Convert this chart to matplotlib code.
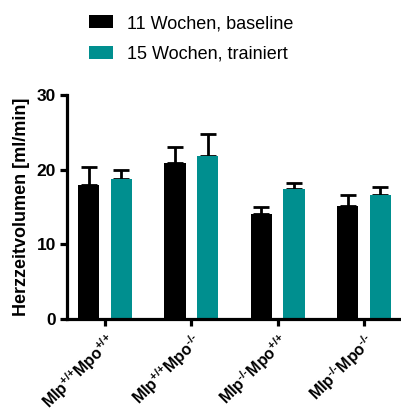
import matplotlib
matplotlib.use('Agg')
from matplotlib import pyplot as plt
import numpy as np

plt.rcParams['font.family'] = 'Liberation Sans'
plt.rcParams['mathtext.fontset'] = 'custom'
plt.rcParams['mathtext.rm'] = 'Liberation Sans:bold'
plt.rcParams['mathtext.bf'] = 'Liberation Sans:bold'
plt.rcParams['mathtext.it'] = 'Liberation Sans:bold'

groups = [r'Mlp$^{\text{+/+}}$Mpo$^{\text{+/+}}$', r'Mlp$^{\text{+/+}}$Mpo$^{\text{-/-}}$',
          r'Mlp$^{\text{-/-}}$Mpo$^{\text{+/+}}$', r'Mlp$^{\text{-/-}}$Mpo$^{\text{-/-}}$']
series_names = ['11 Wochen, baseline', '15 Wochen, trainiert']
baseline = [18.0, 20.9, 14.1, 15.1]
baseline_err = [2.4, 2.1, 0.9, 1.5]
trained = [18.8, 21.8, 17.4, 16.6]
trained_err = [1.2, 3.0, 0.8, 1.1]

colors = ['#000000', '#008F8F']

fig = plt.figure(figsize=(4.02, 4.12), dpi=100)
ax = fig.add_axes([67 / 402, 1 - 319 / 412, 1 - 67 / 402, (319 - 95) / 412])

x = np.arange(len(groups))
width = 0.245
offset = 0.19

for i, (vals, errs) in enumerate([(baseline, baseline_err), (trained, trained_err)]):
    pos = x + (i * 2 - 1) * offset
    ax.bar(pos, vals, width, color=colors[i], label=series_names[i], zorder=2)
    ax.errorbar(pos, vals, yerr=[np.zeros(len(errs)), errs], fmt='none',
                ecolor='black', elinewidth=2, capsize=6, capthick=2, zorder=1)

ax.set_xlim(-0.44, 3.44)
ax.set_ylim(0, 30)
ax.set_yticks([0, 10, 20, 30])
ax.set_xticks(x)
ax.set_xticklabels(groups, rotation=45, ha='right', rotation_mode='anchor',
                   fontsize=11.5, fontweight='bold')
for lbl in ax.get_yticklabels():
    lbl.set_fontweight('bold')
    lbl.set_fontsize(12.5)
ax.set_ylabel('Herzzeitvolumen [ml/min]', fontsize=13, fontweight='bold', labelpad=5)

for side in ['top', 'right']:
    ax.spines[side].set_visible(False)
for side in ['left', 'bottom']:
    ax.spines[side].set_linewidth(2.3)
ax.tick_params(width=2.3, length=5, direction='out', pad=3)

fig.legend(loc='upper left', bbox_to_anchor=(82 / 402, 1 - 8 / 412), frameon=False,
           fontsize=13, handlelength=1.33, handleheight=0.72, labelspacing=0.75,
           handletextpad=0.78, borderaxespad=0)

fig.savefig('out.png', dpi=100)
